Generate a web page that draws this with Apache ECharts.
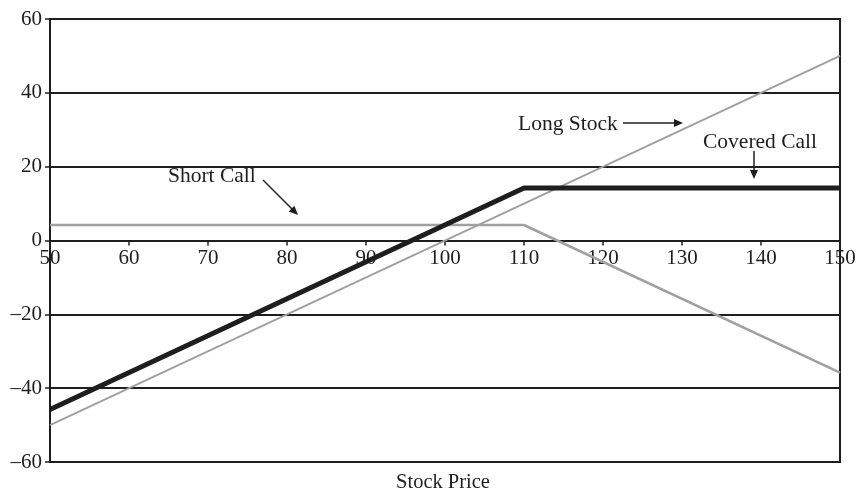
<!DOCTYPE html>
<html>
<head>
<meta charset="utf-8">
<script src="https://cdn.jsdelivr.net/npm/echarts@6/dist/echarts.min.js"></script>
<style>html,body{margin:0;padding:0;background:#fff}#c{width:859px;height:495px}</style>
</head>
<body>
<div id="c"></div>
<script>
const prices = [50, 110, 150];
const longStock = [-50, 10, 50];
const shortCall = [4.2, 4.2, -35.8];
const coveredCall = [-45.8, 14.2, 14.2];
const xTicks = [50, 60, 70, 80, 90, 100, 110, 120, 130, 140, 150];
const yTicks = [-60, -40, -20, 0, 20, 40, 60];

const FONT = '"Liberation Serif", "DejaVu Serif", serif';
const INK = '#1e1e1e';
const GREY = '#a0a0a0';

const pair = (ys) => prices.map((x, i) => [x, ys[i]]);

const GRID = {left: 50, right: 19, top: 19, bottom: 33};
const plotH = 495 - GRID.top - GRID.bottom;

const chart = echarts.init(document.getElementById('c'), null, {renderer: 'canvas'});

function arrowHead(tipX, tipY, dx, dy, len, half) {
  const n = Math.hypot(dx, dy); const ux = dx / n, uy = dy / n;
  const bx = tipX - ux * len, by = tipY - uy * len;
  return [[tipX, tipY], [bx - uy * half, by + ux * half], [bx + uy * half, by - ux * half]];
}

const textStyle = {fontFamily: FONT, fontSize: 21.5, fill: INK};

chart.setOption({
  animation: false,
  backgroundColor: '#fff',
  grid: Object.assign({show: true, borderColor: INK, borderWidth: 2, containLabel: false, outerBoundsMode: 'none'}, GRID),
  xAxis: {
    type: 'value', min: 50, max: 150, interval: 10, position: 'bottom',
    offset: -plotH / 2,
    axisLine: {onZero: false, lineStyle: {color: INK, width: 2}},
    axisTick: {show: true, length: 5, lineStyle: {color: INK, width: 1.5}},
    axisLabel: {margin: 7, color: INK, fontFamily: FONT, fontSize: 21,
      formatter: (v) => xTicks.includes(v) ? String(v) : ''},
    splitLine: {show: false}
  },
  yAxis: {
    type: 'value', min: -60, max: 60, interval: 20,
    name: 'Profit', nameLocation: 'middle', nameRotate: 90, nameGap: 36,
    nameTextStyle: {color: INK, fontFamily: FONT, fontSize: 18},
    axisLine: {show: true, lineStyle: {color: INK, width: 2}},
    axisTick: {show: true, length: 5, lineStyle: {color: INK, width: 1.5}},
    axisLabel: {margin: 8, color: INK, fontFamily: FONT, fontSize: 21,
      formatter: (v) => yTicks.includes(v) ? String(v).replace('-', '\u2013') : ''},
    splitLine: {show: true, lineStyle: {color: INK, width: 2}}
  },
  series: [
    {name: 'Long Stock', type: 'line', data: pair(longStock), symbol: 'none', z: 3,
      lineStyle: {color: GREY, width: 2}},
    {name: 'Short Call', type: 'line', data: pair(shortCall), symbol: 'none', z: 3,
      lineStyle: {color: GREY, width: 2.5}},
    {name: 'Covered Call', type: 'line', data: pair(coveredCall), symbol: 'none', z: 4,
      lineStyle: {color: INK, width: 5}}
  ],
  graphic: [
    {type: 'text', x: 443, y: 483, style: Object.assign({text: 'Stock Price', textAlign: 'center', textVerticalAlign: 'middle'}, textStyle, {fontSize: 20.5})},
    {type: 'text', x: 168, y: 176, style: Object.assign({text: 'Short Call', textVerticalAlign: 'middle'}, textStyle)},
    {type: 'text', x: 518, y: 124, style: Object.assign({text: 'Long Stock', textVerticalAlign: 'middle'}, textStyle)},
    {type: 'text', x: 703, y: 142, style: Object.assign({text: 'Covered Call', textVerticalAlign: 'middle'}, textStyle)},
    {type: 'line', shape: {x1: 263, y1: 180, x2: 293, y2: 210}, style: {stroke: INK, lineWidth: 1.5}},
    {type: 'polygon', shape: {points: arrowHead(298, 215, 35, 34, 9, 4)}, style: {fill: INK}},
    {type: 'line', shape: {x1: 623, y1: 123, x2: 676, y2: 123}, style: {stroke: INK, lineWidth: 1.5}},
    {type: 'polygon', shape: {points: arrowHead(683, 123, 1, 0, 9, 4)}, style: {fill: INK}},
    {type: 'line', shape: {x1: 754, y1: 151, x2: 754, y2: 172}, style: {stroke: INK, lineWidth: 1.5}},
    {type: 'polygon', shape: {points: arrowHead(754, 179, 0, 1, 9, 4)}, style: {fill: INK}}
  ]
});
</script>
</body>
</html>
